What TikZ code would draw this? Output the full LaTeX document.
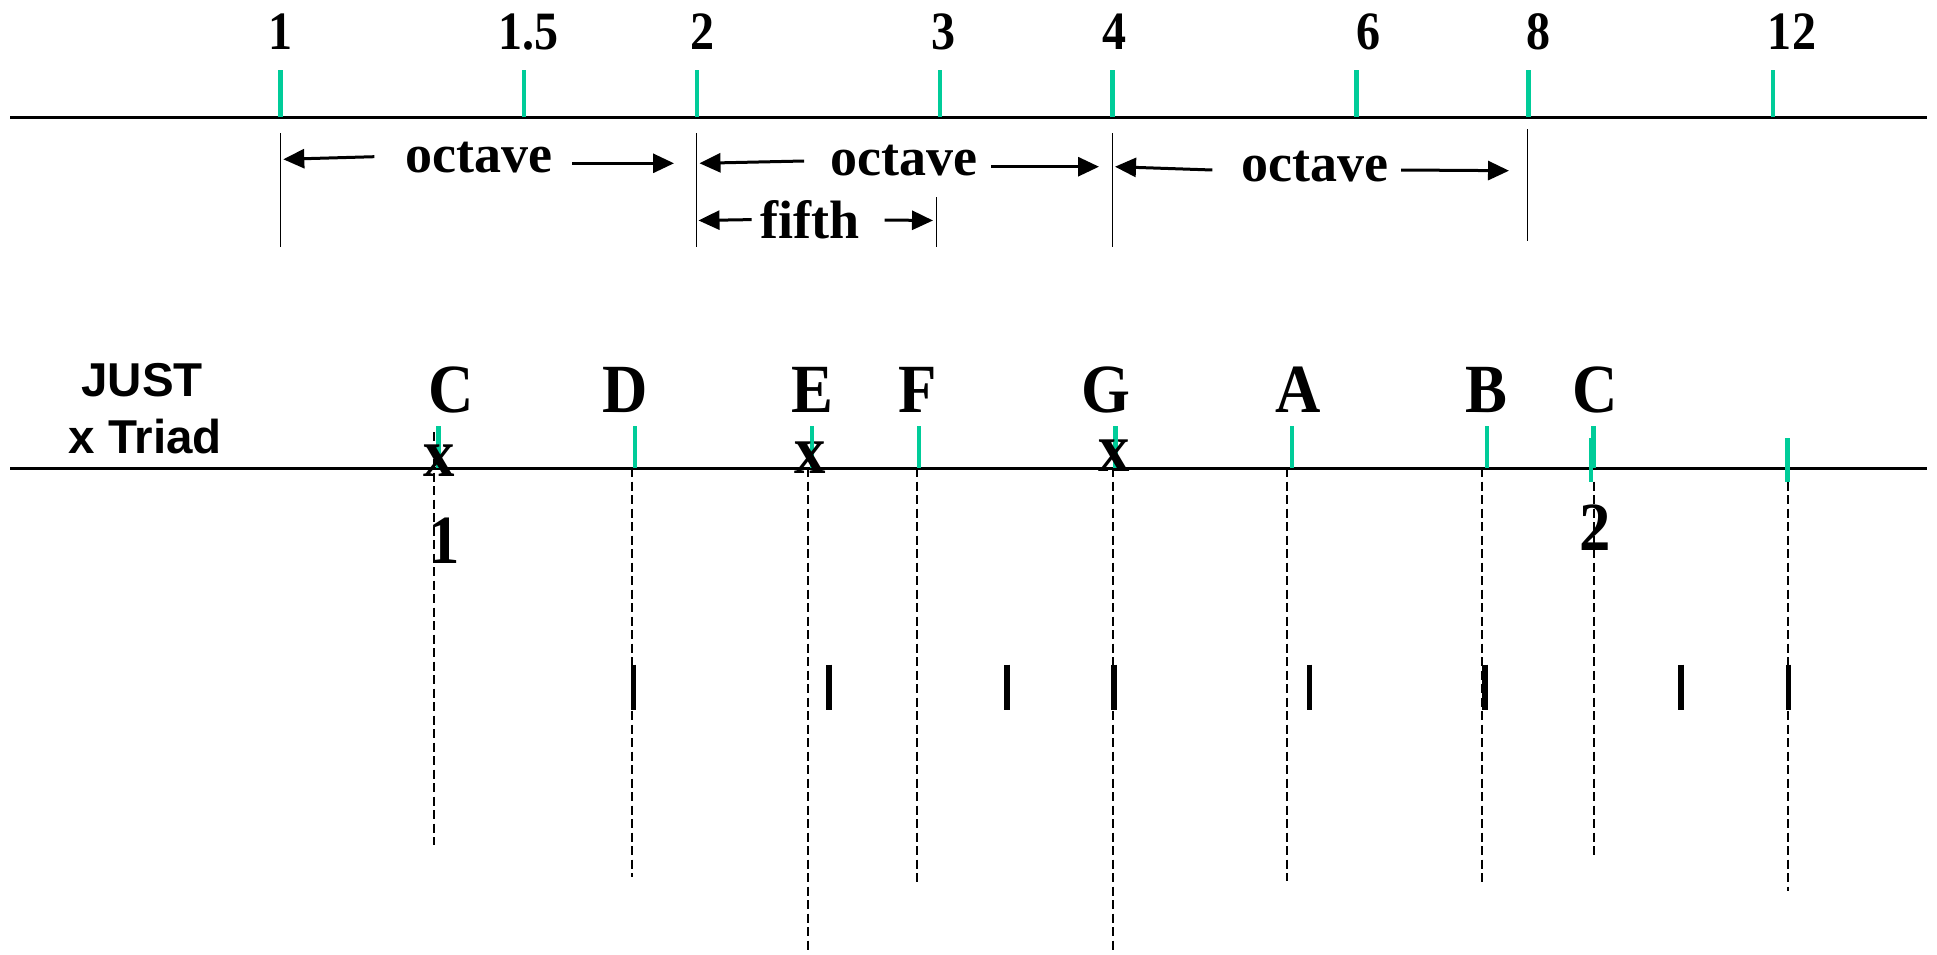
\documentclass[tikz,border=0pt]{standalone}
\usepackage{fontspec}
\setmainfont{Liberation Serif}
\newfontfamily\ratioserif[FakeStretch=0.89]{Liberation Serif}
\newfontfamily\noteserif[FakeStretch=0.91]{Liberation Serif}
\newfontfamily\labelsans{Liberation Sans}
\usetikzlibrary{arrows.meta}
\definecolor{tickgreen}{RGB}{0,204,153}
\begin{document}
\begin{tikzpicture}[x=1pt,y=-1pt,
  axis/.style={line width=2.6pt},
  gtick/.style={draw=tickgreen,line width=4.2pt},
  bound/.style={line width=1.5pt},
  span/.style={line width=3pt,-{Triangle[length=21pt,width=19pt]}},
  guide/.style={line width=2pt,dash pattern=on 9pt off 4.5pt},
  btick/.style={line width=5.5pt},
  ratio/.style={inner sep=0pt,anchor=base,font=\ratioserif\bfseries\fontsize{54}{54}\selectfont},
  word/.style={inner sep=0pt,anchor=base,font=\bfseries\fontsize{54}{54}\selectfont},
  note/.style={inner sep=0pt,anchor=base,font=\noteserif\bfseries\fontsize{69}{69}\selectfont},
  side/.style={inner sep=0pt,anchor=base,font=\labelsans\bfseries\fontsize{47.5}{47.5}\selectfont},
]
\useasboundingbox[fill=white] (0,0) rectangle (1937,955);

% ---------- logarithmic frequency axis ----------
\coordinate (topL) at (10,117.4);
\coordinate (topR) at (1927,117.4);
\draw[axis] (topL) -- (topR);

\foreach \name/\tx/\lx/\txt in {r1/280.4/280.4/1, r15/523.9/528.7/1.5, r2/696.7/702.9/2,
    r3/940.2/943.8/3, r4/1112.5/1114.5/4, r6/1356.5/1368/6, r8/1528.5/1538/8, r12/1772.8/1792/12}{
  \coordinate (\name b) at (\tx,117.4);
  \coordinate (\name t) at (\tx,70);
  \draw[gtick] (\name b) -- (\name t);
  \node[ratio] (\name lab) at (\lx,49.3) {\txt};
}

% interval boundaries
\coordinate (v1a) at (280.5,133.3);  \coordinate (v1b) at (280.5,246.7);
\coordinate (v2a) at (696.5,133.3);  \coordinate (v2b) at (696.5,246.7);
\coordinate (v3a) at (1112.5,133.3); \coordinate (v3b) at (1112.5,246.7);
\coordinate (v4a) at (1527.5,129.3); \coordinate (v4b) at (1527.5,240.7);
\coordinate (v5a) at (936.5,197.3);  \coordinate (v5b) at (936.5,246.7);
\foreach \p in {v1,v2,v3,v4,v5}{\draw[bound] (\p a) -- (\p b);}

% interval names
\node[word] (oct1) at (479,172.7) {octave};
\node[word] (oct2) at (904,175) {octave};
\node[word] (oct3) at (1315,181.7) {octave};
\node[word] (fifth) at (810,238.3) {fifth};

% span arrows
\coordinate (o1ls) at (374.3,156.7);  \coordinate (o1le) at (283.3,159.3);
\coordinate (o1rs) at (572.2,163.3);  \coordinate (o1re) at (674,163.3);
\coordinate (o2ls) at (804.2,161);    \coordinate (o2le) at (699.5,163.3);
\coordinate (o2rs) at (991,166.7);    \coordinate (o2re) at (1099,166.7);
\coordinate (o3ls) at (1212.3,170);   \coordinate (o3le) at (1115,166.7);
\coordinate (o3rs) at (1401,170);     \coordinate (o3re) at (1509,170.7);
\coordinate (f1ls) at (751.6,219.6);  \coordinate (f1le) at (698.5,220.5);
\coordinate (f1rs) at (884.6,220);    \coordinate (f1re) at (933,220.5);
\foreach \a in {o1l,o1r,o2l,o2r,o3l,o3r,f1l,f1r}{\draw[span] (\a s) -- (\a e);}

% ---------- just-intonation scale ----------
\node[side] (just) at (142.2,396.7) {JUST};
\node[side] (triad) at (145.4,453) {x Triad};

\coordinate (botL) at (10,468.2);
\coordinate (botR) at (1927,468.2);
\draw[axis] (botL) -- (botR);

% note ticks and names
\foreach \name/\tx/\lx/\txt in {nC/438.5/450.7/C, nD/634.9/625/D, nE/811.6/812.6/E,
    nF/919.1/918/F, nG/1115.5/1105.5/G, nA/1292.1/1298/A, nB/1487.3/1486.5/B,
    nCC/1593.5/1595.6/C}{
  \coordinate (\name b) at (\tx,468.2);
  \coordinate (\name t) at (\tx,426.2);
  \draw[gtick] (\name b) -- (\name t);
  \node[note] (\name lab) at (\lx,412) {\txt};
}
\coordinate (nCtx) at (1591,481.7); \coordinate (nCtt) at (1591,438);
\draw[gtick] (nCtx) -- (nCtt);
\coordinate (nDDb) at (1787.5,481.7); \coordinate (nDDt) at (1787.5,438);
\draw[gtick] (nDDb) -- (nDDt);

% triad marks
\node[note] (xC) at (439.5,476) {x};
\node[note] (xE) at (810.4,473) {x};
\node[note] (xG) at (1114.5,471) {x};

% octave numbers
\node[note] (one) at (444.5,563) {1};
\node[note] (two) at (1595.5,550) {2};

% dashed guides
\coordinate (gCa) at (434,432);    \coordinate (gCb) at (434,845);
\coordinate (gDa) at (632,468);    \coordinate (gDb) at (632,877);
\coordinate (gEa) at (808,468);    \coordinate (gEb) at (808,951);
\coordinate (gFa) at (917,468);    \coordinate (gFb) at (917,882);
\coordinate (gGa) at (1113,468);   \coordinate (gGb) at (1113,951);
\coordinate (gAa) at (1287,468);   \coordinate (gAb) at (1287,881);
\coordinate (gBa) at (1482,468);   \coordinate (gBb) at (1482,882);
\coordinate (gCCa) at (1594,481.7); \coordinate (gCCb) at (1594,859);
\coordinate (gDDa) at (1788,481.7); \coordinate (gDDb) at (1788,890.7);
\foreach \g in {gC,gD,gE,gF,gG,gA,gB,gCC,gDD}{\draw[guide] (\g a) -- (\g b);}

% equal-tempered reference marks
\foreach \name/\tx in {e1/633.7, e2/828.9, e3/1006.8, e4/1114.2, e5/1309.4, e6/1484.8, e7/1681.2, e8/1788.7}{
  \coordinate (\name a) at (\tx,664.6);
  \coordinate (\name b) at (\tx,710.3);
  \draw[btick] (\name a) -- (\name b);
}
\end{tikzpicture}
\end{document}
